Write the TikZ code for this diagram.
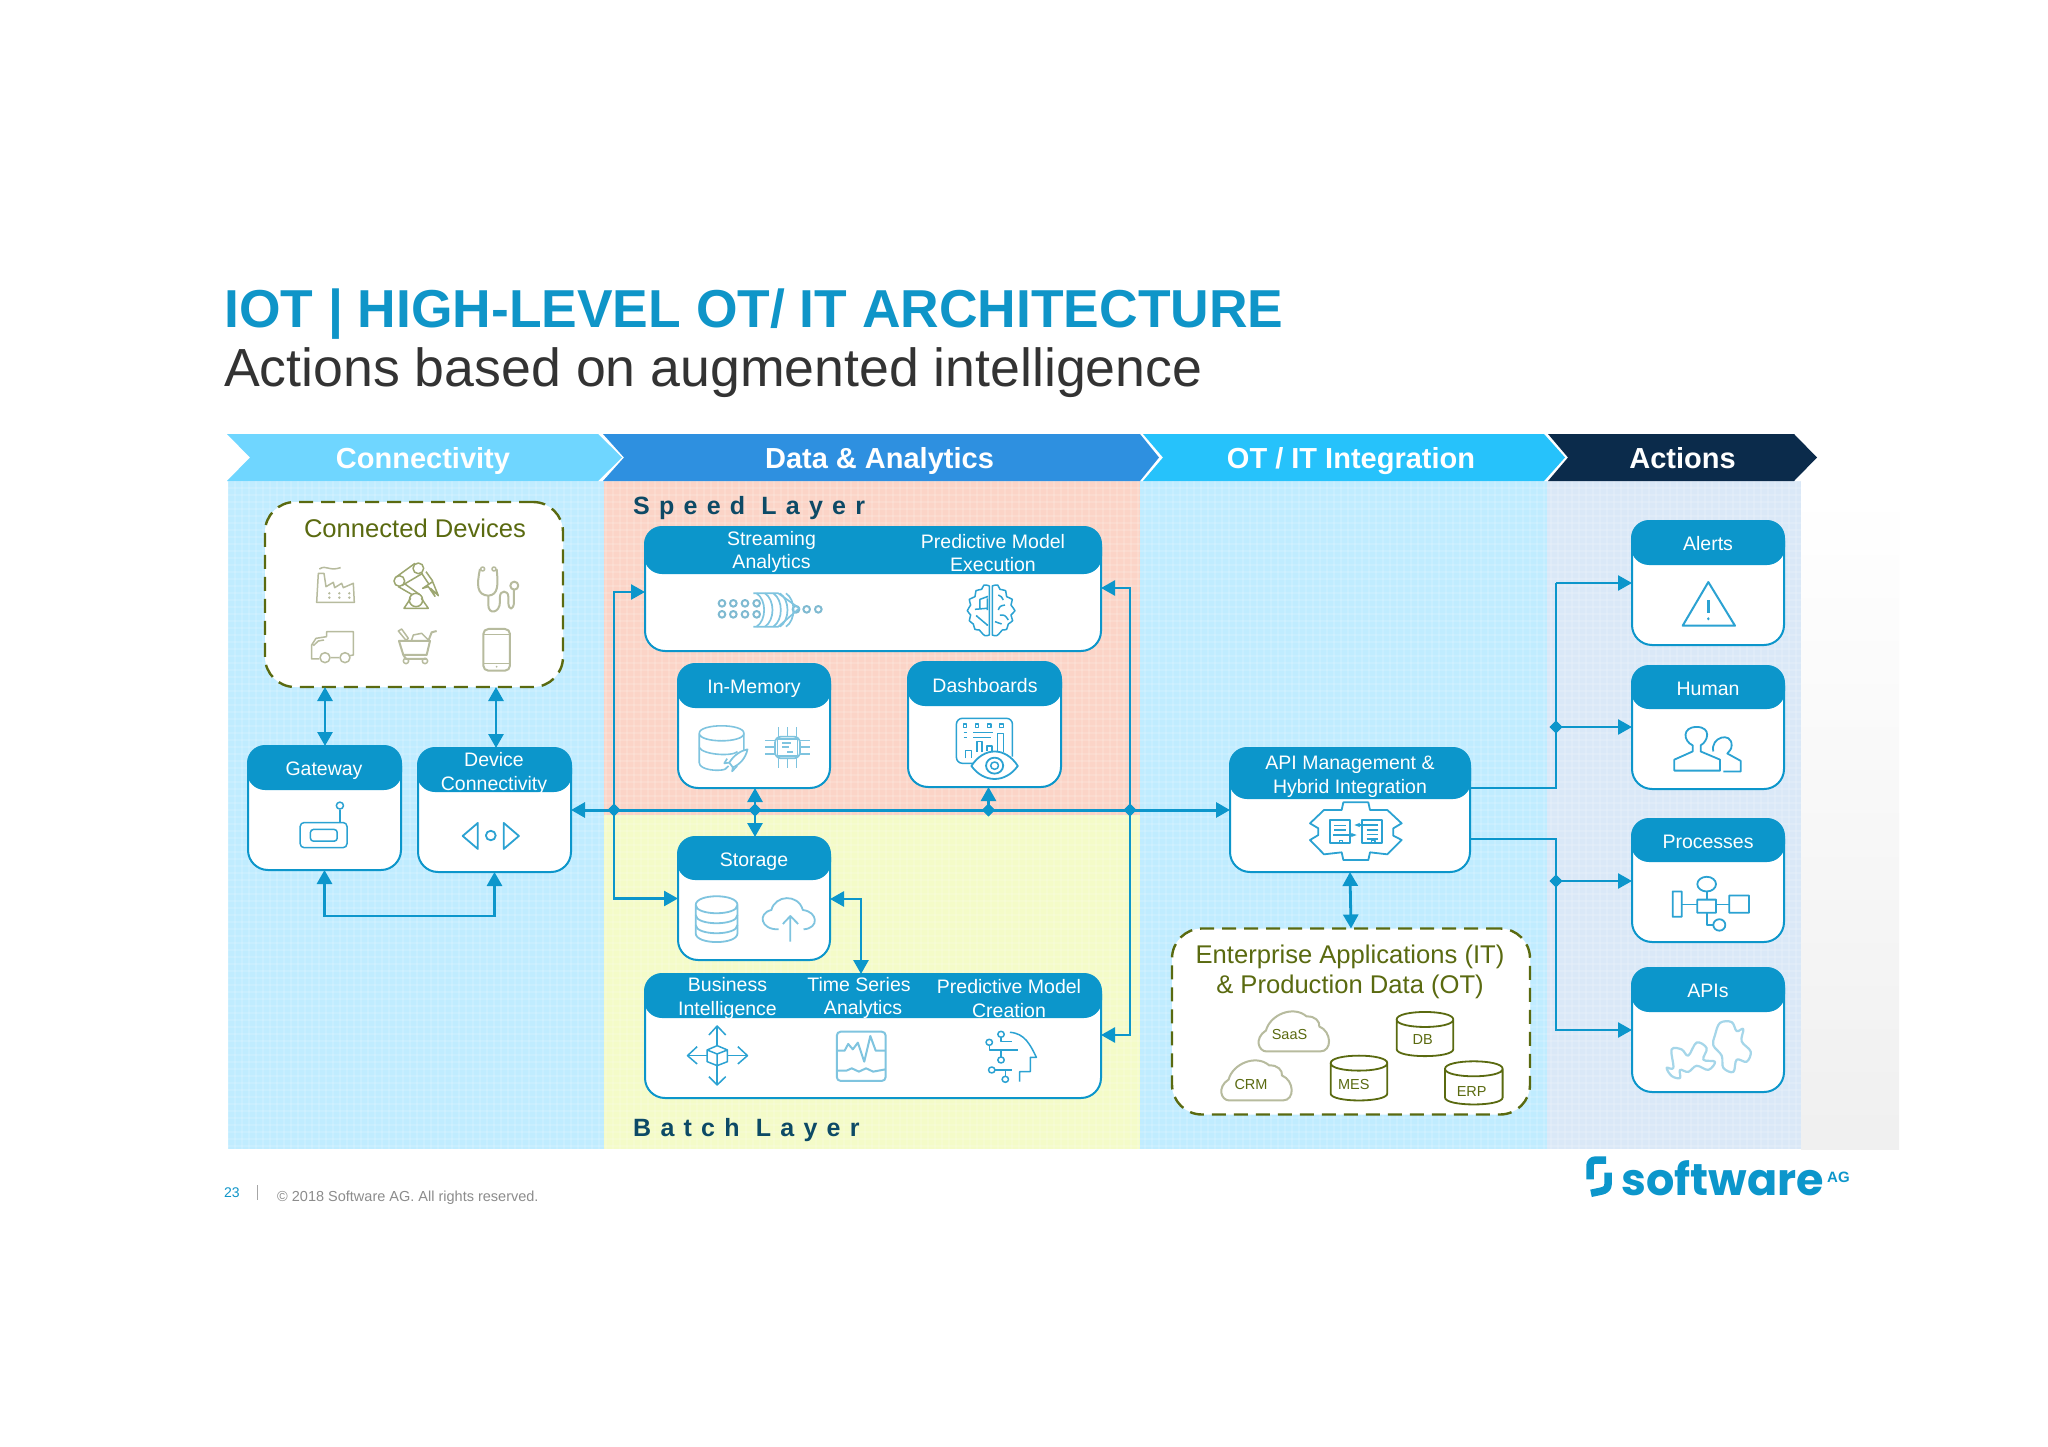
\documentclass[tikz,border=0pt]{standalone}
\usepackage{fontspec}
\setmainfont{Liberation Sans}
\newfontfamily\logofont{Poppins}
\usetikzlibrary{arrows.meta,shapes.geometric,calc}
\definecolor{hd}{HTML}{0C96CB}
\definecolor{ttl}{HTML}{0F95C8}
\definecolor{pblue}{HTML}{C0ECFF}
\definecolor{ppink}{HTML}{FBD4C7}
\definecolor{pyell}{HTML}{F4FBC8}
\definecolor{pact}{HTML}{DAE8F7}
\definecolor{olive}{HTML}{5A6A10}
\definecolor{ico}{HTML}{2BA2D2}
\definecolor{icol}{HTML}{7FC4DF}
\definecolor{icog}{HTML}{B7BB9E}
\definecolor{layerc}{HTML}{0D4A66}
\definecolor{bA}{HTML}{6FD6FF}
\definecolor{bB}{HTML}{2E90E0}
\definecolor{bC}{HTML}{26C2FB}
\definecolor{bD}{HTML}{0B2B4B}
\tikzset{
 card/.style={draw=hd,line width=2pt,fill=white,rounded corners=20pt,inner sep=0pt,outer sep=0pt},
 dashbox/.style={draw=olive,line width=2.4pt,fill=white,rounded corners=30pt,dash pattern=on 14pt off 8pt,inner sep=0pt,outer sep=0pt},
 htxt/.style={text=white,align=center,inner sep=0pt,font=\fontsize{19.5}{23.5}\selectfont},
 bandt/.style={anchor=base,text=white,inner sep=0pt,font=\fontsize{29}{32}\selectfont\bfseries},
 layer/.style={anchor=base west,inner sep=0pt,text=layerc,font=\fontsize{25}{28}\selectfont\bfseries\addfontfeatures{LetterSpace=37}},
 oltxt/.style={text=olive,align=center,inner sep=0pt,font=\fontsize{25.6}{30}\selectfont},
 smtxt/.style={text=olive,inner sep=0pt,font=\fontsize{14.5}{17}\selectfont},
 conn/.style={draw=hd,line width=2.8pt,{Triangle[length=14pt,width=15pt]}-{Triangle[length=14pt,width=15pt]}},
 oneway/.style={draw=hd,line width=2.6pt,-{Triangle[length=14pt,width=15pt]}},
 wire/.style={draw=hd,line width=2.6pt},
 jn/.style={diamond,fill=hd,inner sep=0pt,minimum size=13pt},
 zA/.style={shift={(210,260)},x=0.4464pt,y=-0.4337pt},
 zB/.style={shift={(600,480)},x=0.3571pt,y=-0.3333pt},
 zC/.style={shift={(600,800)},x=0.3571pt,y=-0.3333pt},
 zD/.style={shift={(1140,721.5)},x=0.3333pt,y=-0.3333pt},
 zE/.style={shift={(1540,480)},x=0.3333pt,y=-0.4082pt},
 zG/.style={shift={(300,555)},x=0.3333pt,y=-0.3333pt},
 zH/.style={shift={(700,580)},x=0.3333pt,y=-0.3333pt},
 zJ/.style={shift={(1580,1151)},x=0.3333pt,y=-0.3333pt},
 zK/.style={shift={(1300,795)},x=0.3333pt,y=-0.3333pt},
 ic/.style={draw=ico,line width=1.5pt,line join=round},
 il/.style={draw=icol,line width=1.7pt,line join=round},
 ig/.style={draw=icog,line width=1.5pt,line join=round},
}
\newcommand{\cardbox}[6]{%
 \pgfmathsetmacro\cw{#4-#2}\pgfmathsetmacro\ch{#5-#3}%
 \pgfmathsetmacro\cx{(#2+#4)/2}\pgfmathsetmacro\cy{(#3+#5)/2}%
 \node[card,minimum width=\cw pt,minimum height=\ch pt] (#1) at (\cx,\cy) {};
 \fill[hd,rounded corners=18pt] (#2-1,#3-1) rectangle (#4+1,#6);
}
\newcommand{\cyl}[4]{%
 \draw[draw=olive,line width=1.8pt,fill=white] (#1,#2+22) -- (#1,#4-22) .. controls (#1,#4+6) and (#3,#4+6) .. (#3,#4-22) -- (#3,#2+22) .. controls (#3,#2-8) and (#1,#2-8) .. (#1,#2+22) .. controls (#1,#2+52) and (#3,#2+52) .. (#3,#2+22);
}
\newcommand{\cloudp}[2]{%
 \draw[draw=icog,line width=2pt,fill=white,shift={(#1,#2)}] (30,125) .. controls (5,125) and (-8,85) .. (28,62) .. controls (40,15) and (110,-15) .. (150,20) .. controls (175,18) and (190,35) .. (188,50) .. controls (225,65) and (228,125) .. (190,125) -- cycle;
}
\begin{document}
\begin{tikzpicture}[x=1pt,y=-1pt]
\useasboundingbox (0,0) rectangle (2048,1447);
\fill[white] (0,0) rectangle (2048,1447);
% panels
\shade[top color=white,bottom color=black!6] (1801,490) rectangle (1899,1149);
\fill[pblue] (228,481) rectangle (604,1149);
\fill[ppink] (604,481) rectangle (1140,815);
\fill[pyell] (604,815) rectangle (1140,1149);
\fill[pblue] (1140,481) rectangle (1546.5,1149);
\fill[pact] (1546.5,481) rectangle (1801,1149);
\begin{scope}
 \clip (228,481) rectangle (1801,1149);
 \foreach \a in {0,...,225}{\draw[white,opacity=.14,line width=1.2pt] (228+7*\a,481)--(228+7*\a,1149);}
 \foreach \b in {0,...,96}{\draw[white,opacity=.14,line width=1.2pt] (228,481+7*\b)--(1801,481+7*\b);}
\end{scope}
% bands
\fill[bA] (227,434)--(598,434)--(622,457.5)--(598,481)--(227,481)--(250,457.5)--cycle;
\fill[bB] (603,434)--(1140,434)--(1159,457.5)--(1140,481)--(603,481)--(624,457.5)--cycle;
\fill[bC] (1143,434)--(1544,434)--(1565,457.5)--(1544,481)--(1143,481)--(1163,457.5)--cycle;
\fill[bD] (1548,434)--(1794,434)--(1817,457.5)--(1794,481)--(1548,481)--(1568,457.5)--cycle;
\node[bandt] (tA) at (423,468.5) {Connectivity};
\node[bandt] (tB) at (879.5,468.5) {Data \& Analytics};
\node[bandt] (tC) at (1351,468.5) {OT / IT Integration};
\node[bandt] (tD) at (1682.5,468.5) {Actions};
% title
\node[anchor=base west,inner sep=0,text=ttl,font=\fontsize{53.4}{60}\selectfont\bfseries] (title) at (224,327) {IOT | HIGH-LEVEL OT/ IT ARCHITECTURE};
\node[anchor=base west,inner sep=0,text=black!80,font=\fontsize{53.65}{60}\selectfont] (sub) at (224,386) {Actions based on augmented intelligence};
% layers
\node[layer] (sl) at (633,514) {Speed Layer};
\node[layer] (bl) at (633,1136) {Batch Layer};
% dashed boxes
\node[dashbox,minimum width=298pt,minimum height=185pt] (cd) at (414,594.5) {};
\node[dashbox,minimum width=358pt,minimum height=186pt] (ent) at (1351,1021.5) {};
\node[oltxt] (cdt) at (415,528) {Connected Devices};
\node[oltxt] (entt) at (1350,972) {Enterprise Applications (IT)\\\& Production Data (OT)};
% cards
\cardbox{gw}{248}{746}{401}{870}{790}
\cardbox{dev}{418}{748}{571}{872}{792}
\cardbox{strm}{645}{527}{1101}{651}{574}
\cardbox{mem}{678}{664}{830}{788}{708}
\cardbox{dash}{908}{662}{1061}{787}{706}
\cardbox{stor}{678}{837}{830}{960}{880}
\cardbox{batch}{645}{974}{1101}{1098}{1018}
\cardbox{api}{1230}{748}{1470}{872}{799}
\cardbox{alert}{1632}{521}{1784}{645}{565}
\cardbox{human}{1632}{666}{1784}{789}{709}
\cardbox{proc}{1632}{819}{1784}{942}{862}
\cardbox{apis}{1632}{968}{1784}{1092}{1012}
% header texts
\node[htxt] (t1) at (324,771) {Gateway};
\node[htxt] (t2) at (494,773.5) {Device\\Connectivity};
\node[htxt] (t3) at (771.5,552) {Streaming\\Analytics};
\node[htxt] (t4) at (993,553) {Predictive Model\\Execution};
\node[htxt] (t5) at (754,689) {In-Memory};
\node[htxt] (t6) at (985,685.5) {Dashboards};
\node[htxt] (t7) at (754,862) {Storage};
\node[htxt] (t8) at (727.5,998.5) {Business\\Intelligence};
\node[htxt] (t9) at (859,998) {Time Series\\\hspace*{8pt}Analytics};
\node[htxt] (t10) at (1009,998.5) {Predictive Model\\Creation};
\node[htxt] (t11) at (1350,777) {API Management \&\\Hybrid Integration};
\node[htxt] (t12) at (1708,543.5) {Alerts};
\node[htxt] (t13) at (1708,688.5) {Human};
\node[htxt] (t14) at (1708,841.5) {Processes};
\node[htxt] (t15) at (1708,990.5) {APIs};
% junctions
\node[jn] (j1) at (614,810) {};
\node[jn] (j2) at (755,810) {};
\node[jn] (j3) at (988.5,810) {};
\node[jn] (j4) at (1130,810) {};
\node[jn] (j5) at (1556,727) {};
\node[jn] (j6) at (1556,881) {};
\coordinate (apiU) at (api.east |- 0,788);
\coordinate (apiD) at (api.east |- 0,839);
\coordinate (alertK) at (1556,583);
\coordinate (stT) at (861,898);
% connectors
\draw[oneway,line width=3pt] (j4.center) -- (j4.center -| api.west);
\draw[oneway,line width=3pt] (j4.center) -- (j1.center) -- (j1.center -| dev.east);
\draw[conn] (cd.south -| 325,0) -- (gw.north -| 325,0);
\draw[conn] (cd.south -| 496,0) -- (dev.north -| 496,0);
\draw[conn] (gw.south) -- (gw.south |- 0,916) -- (dev.south |- 0,916) -- (dev.south);
\draw[oneway] (j1.center) |- ([yshift=-3pt]strm.west);
\draw[oneway] (j1.center) |- ([yshift=0pt]stor.west);
\draw[oneway] (j4.center) |- ([yshift=1pt]strm.east);
\draw[oneway] (j4.center) |- ([yshift=1pt]batch.east);
\draw[conn] (mem.south -| j2) -- (stor.north -| j2);
\draw[oneway] (j3.center) -- (j3.center |- dash.south);
\draw[conn] ([yshift=-.5pt]stor.east) -| (batch.north -| stT);
\draw[conn] (api.south) -- (ent.north);
\draw[wire] (apiU) -- (alertK |- apiU) -- (alertK);
\draw[oneway] (alertK) -- (alertK -| alert.west);
\draw[oneway] (j5.center) -- (j5.center -| human.west);
\draw[wire] (apiD) -- (j6.center |- apiD) -- (j6.center);
\draw[oneway] (j6.center) -- (j6.center -| proc.west);
\draw[oneway] (j6.center) |- (apis.west);
\node[jn] (j1b) at (j1) {};\node[jn] (j2b) at (j2) {};\node[jn] (j3b) at (j3) {};
\node[jn] (j4b) at (j4) {};\node[jn] (j5b) at (j5) {};\node[jn] (j6b) at (j6) {};
% device icons
\begin{scope}[zG]
 \draw[ig] (50,142)--(55,55)--(72,55)--(78,95)--(100,82)--(104,98)--(125,85)--(130,98)--(160,85)--(163,142)--cycle;
 \draw[ig] (58,42) .. controls (80,28) and (85,50) .. (122,38);
 \foreach \a in {88,118,148}{\foreach \b in {115,128}{\fill[icog] (\a,\b) circle (4);}}
 \draw[ig,draw=olive!60!white] (298,78) circle (16) (355,40) circle (16) (348,135) circle (20);
 \draw[ig,draw=olive!60!white] (290,65)--(345,25) (305,92)--(368,55) (295,95)--(335,118) (312,85)--(358,118);
 \draw[ig,draw=olive!60!white] (365,55)--(385,85) (378,50)--(398,78) (368,100)--(398,80)--(415,122)--(392,100)--(405,124)--(385,95)--cycle;
 \draw[ig,draw=olive!60!white] (332,130)--(312,160)--(385,160)--(364,130);
 \draw[ig,line width=2pt] (540,42) .. controls (530,90) and (530,120) .. (565,122) .. controls (595,120) and (595,90) .. (590,42);
 \draw[ig] (548,42) circle (6) (582,42) circle (6);
 \draw[ig,line width=2pt] (565,122) -- (565,150) .. controls (565,180) and (600,175) .. (600,140) -- (600,125) .. controls (600,105) and (625,105) .. (625,125) -- (625,140) .. controls (625,170) and (642,165) .. (642,140) -- (642,105);
 \draw[ig,line width=2pt] (643,92) circle (12);
 \draw[ig] (80,245)--(80,230)--(160,230)--(160,300)--(150,302) (118,308)--(92,308) (58,312)--(35,312)--(35,270)--(48,250)--(80,245) (40,272)--(55,258)--(72,255);
 \draw[ig] (75,308) circle (15) (135,308) circle (15);
 \draw[ig,line width=2pt] (297,258)--(390,258)--(380,300)--(310,300)--cycle (310,300)--(318,312)--(380,312) (385,258)--(395,232)--(410,228);
 \draw[ig] (318,318) circle (8) (375,318) circle (8);
 \draw[ig] (295,228)--(318,256)--(325,250)--(305,222)--cycle (335,255)--(340,240)--(365,235)--(385,255);
 \draw[ig,line width=2pt,rounded corners=5pt] (550,222) rectangle (630,347);
 \draw[ig] (550,238)--(630,238) (550,325)--(630,325);
 \fill[icog] (590,335) circle (3);
\end{scope}
% gateway and device icons
\begin{scope}[zA]
 \draw[ic,rounded corners=4pt] (202,1297) rectangle (307,1355);
 \draw[ic,rounded corners=3pt] (225,1313) rectangle (285,1340);
 \draw[ic] (291,1268)--(291,1297);
 \draw[ic] (291,1258) circle (8);
 \draw[ic,line width=1.8pt] (600,1298)--(600,1358)--(566,1328)--cycle (658,1298)--(658,1358)--(692,1328)--cycle;
 \draw[ic,line width=1.8pt] (629,1327) circle (11);
\end{scope}
% streaming + brain
\begin{scope}[zH]
 \foreach \a in {66,100,135,170}{\foreach \b in {70,103}{\draw[il,draw=icol!85!gray,line width=2pt] (\a,\b) circle (10);}}
 \foreach \a in {288,320,355}{\draw[il,draw=icol!85!gray,line width=2pt] (\a,88) circle (10);}
 \draw[il] (160,40)--(235,40)--(298,85)--(235,140)--(160,140);
 \foreach \a in {170,195,220,240,258}{\draw[il] (\a,40) .. controls (\a+30,60) and (\a+30,120) .. (\a,140);}
 \draw[ic] plot[smooth,tension=.7] coordinates {(868,165)(855,167)(845,158)(838,150)(825,148)(820,132)(808,122)(812,105)(802,92)(812,75)(808,58)(825,50)(828,32)(845,28)(852,15)(868,18)} -- cycle;
 \draw[ic] plot[smooth,tension=.7] coordinates {(877,165)(890,167)(900,158)(907,150)(920,148)(925,132)(938,122)(933,105)(945,92)(933,75)(937,58)(920,50)(917,32)(900,28)(893,15)(877,18)} -- cycle;
 \draw[ic] (862,50)--(840,58)--(840,85) (860,85)--(825,88) (862,55)--(862,90) (830,108)--(862,135);
 \fill[ico] (862,50) circle (3) (840,85) circle (3) (830,108) circle (3) (862,135) circle (3);
 \draw[ic] (895,45) .. controls (905,50) .. (910,60) (915,75) .. controls (900,78) .. (895,90) (900,105) .. controls (915,105) .. (925,120) (885,125) .. controls (895,130) .. (905,132);
\end{scope}
% memory db, chip, dashboard
\begin{scope}[zB]
 \draw[il,line width=1.6pt] (278,760) .. controls (278,730) and (403,730) .. (403,760) .. controls (403,790) and (278,790) .. (278,760) -- (278,848) .. controls (278,870) and (330,875) .. (350,868);
 \draw[il,line width=1.6pt] (403,760)--(403,810) (278,803) .. controls (290,825) and (370,830) .. (385,815);
 \draw[il,fill=white] (413,808) .. controls (395,812) and (375,825) .. (362,848) -- (372,862) .. controls (390,855) and (408,835) .. (413,808) -- cycle;
 \draw[il] (362,848)--(348,850)--(356,836) (372,862)--(370,874)--(384,858) (350,868)--(360,858);
 \draw[il,rounded corners=6pt] (490,770) rectangle (560,835);
 \draw[il] (497,778) rectangle (553,828);
 \draw[il] (510,790)--(535,790) (510,802)--(530,802) (525,816)--(540,816);
 \foreach \a in {500,525,550}{\draw[il] (\a,742)--(\a,770) (\a,835)--(\a,865);}
 \foreach \b in {782,802,822}{\draw[il] (463,\b)--(490,\b) (560,\b)--(588,\b);}
 \draw[ic,rounded corners=6pt] (1155,830) -- (1155,715) -- (998,715) -- (998,850) -- (1045,850);
 \foreach \a in {1022,1056,1090,1124}{\draw[ic,line width=1.2pt] (\a-5,732) rectangle (\a+5,742);}
 \draw[ic] (1018,758)--(1028,758) (1018,772)--(1028,772) (1045,758)--(1100,758) (1045,772)--(1095,772);
 \draw[ic] (1023,835)--(1023,812)--(1040,812)--(1040,835) (1055,815)--(1055,785)--(1070,785)--(1070,815) (1083,812)--(1083,798)--(1098,798)--(1098,815) (1113,815)--(1113,760)--(1130,760)--(1130,815);
 \draw[ic,fill=white,line width=1.8pt] (1040,858) .. controls (1075,800) and (1135,800) .. (1170,858) .. controls (1135,910) and (1075,910) .. (1040,858) -- cycle;
 \draw[ic,line width=1.8pt] (1105,857) circle (24);
 \draw[ic] (1105,857) circle (11);
\end{scope}
% storage, BI, time series, head
\begin{scope}[zC]
 \draw[il,line width=1.8pt] (268,315) .. controls (268,280) and (385,280) .. (385,315) .. controls (385,348) and (268,348) .. (268,315) -- (268,400) .. controls (268,435) and (385,435) .. (385,400) -- (385,315);
 \draw[il,line width=1.8pt] (268,345) .. controls (268,378) and (385,378) .. (385,345) (268,375) .. controls (268,408) and (385,408) .. (385,375);
 \draw[il,line width=1.8pt] (500,388) .. controls (450,390) and (440,340) .. (480,330) .. controls (490,285) and (555,280) .. (568,330) .. controls (610,335) and (615,385) .. (570,388);
 \draw[il,line width=1.8pt] (533,425)--(533,348) (512,372)--(533,348)--(555,372);
 \draw[ic] (328,678)--(328,737) (328,797)--(328,855) (245,767)--(300,767) (357,767)--(413,767);
 \draw[ic] (305,705)--(328,678)--(352,705) (305,830)--(328,855)--(352,830) (272,740)--(245,767)--(272,792) (386,740)--(413,767)--(386,792);
 \draw[ic] (300,750)--(328,737)--(357,750)--(357,785)--(328,797)--(300,785)--cycle (300,750)--(328,762)--(357,750) (328,762)--(328,797);
 \draw[il,line width=2pt,rounded corners=4pt] (663,695) rectangle (800,843);
 \draw[il,line width=2pt] (663,752)--(685,752)--(695,732)--(708,748)--(722,728)--(740,785)--(757,708)--(772,752)--(800,752);
 \draw[il,line width=2pt] (663,812)--(690,812)--(705,805)--(725,815)--(745,805)--(765,815)--(800,808);
 \draw[ic] (1148,697) .. controls (1190,700) and (1205,735) .. (1222,772)--(1205,772)--(1205,815)--(1175,815)--(1175,845);
 \draw[ic] (1123,712)--(1123,725)--(1155,725) (1090,737)--(1090,750)--(1170,750) (1123,750)--(1123,772) (1105,810)--(1155,810) (1135,810)--(1135,830);
 \draw[ic] (1123,703) circle (9) (1090,727) circle (9) (1123,780) circle (9) (1097,810) circle (9) (1135,838) circle (9);
\end{scope}
% API gear
\begin{scope}[zK]
 \draw[ic,line width=1.8pt] (130,22)--(205,22)--(210,45)--(262,45)--(305,85)--(280,100)--(280,122)--(305,135)--(262,178)--(210,172)--(205,195)--(130,195)--(125,172)--(72,178)--(30,135)--(55,120)--(55,100)--(30,85)--(72,45)--(125,45)--cycle;
 \draw[ic,line width=1.8pt] (90,75) rectangle (150,145) (187,75) rectangle (245,145);
 \draw[ic] (102,92)--(138,92) (102,105)--(138,105) (200,105)--(235,105) (200,118)--(235,118) (200,132)--(235,132);
 \draw[ic,-{Stealth[length=6pt]}] (100,120)--(170,120);
 \draw[ic,-{Stealth[length=6pt]}] (235,90)--(163,90);
 \draw[ic] (118,145)--(118,137)--(128,137)--(128,145) (215,145)--(215,137)--(225,137)--(225,145);
\end{scope}
% right icons
\begin{scope}[zE]
 \draw[ic,line width=2pt] (505,250)--(585,357)--(428,357)--cycle;
 \draw[ic,line width=2.5pt] (505,295)--(505,325);
 \fill[ico] (505,340) circle (4);
 \draw[ic,line width=1.8pt] (403,712)--(403,685)--(458,665)--(458,650) .. controls (430,640) and (425,605) .. (470,605) .. controls (515,605) and (505,640) .. (482,650) -- (482,665) -- (540,685) -- (540,712) -- cycle;
 \draw[ic,line width=1.8pt] (520,665) .. controls (510,630) and (575,615) .. (575,650) .. controls (575,662) and (565,665) .. (562,670) -- (602,688) -- (602,714) -- (550,714);
 \draw[ic,line width=1.8pt] (398,1008) rectangle (425,1070) (472,1028) rectangle (528,1060) (568,1018) rectangle (627,1060) (500,990) ellipse (28 and 18) (538,1090) ellipse (18 and 14);
 \draw[ic,line width=1.8pt] (425,1040)--(472,1040) (528,1040)--(568,1040) (500,1008)--(500,1028) (500,1060)--(500,1090)--(520,1090);
 \draw[il,draw=icol!70!white,line width=2.2pt] plot[smooth cycle,tension=.6] coordinates {(380,1440)(400,1440)(395,1395)(425,1395)(445,1410)(470,1378)(500,1392)(490,1420)(525,1425)(505,1445)(470,1435)(445,1450)(420,1445)(420,1465)(395,1460)};
 \draw[il,draw=icol!70!white,line width=2.2pt] plot[smooth cycle,tension=.6] coordinates {(525,1360)(540,1330)(575,1328)(590,1350)(610,1345)(605,1375)(632,1400)(620,1425)(590,1420)(580,1450)(550,1440)(545,1410)(520,1385)};
\end{scope}
% enterprise icons
\begin{scope}[zD]
 \cloudp{350}{865}
 \cloudp{238}{1012}
 \cyl{770}{872}{940}{1005}
 \cyl{572}{1003}{742}{1138}
 \cyl{915}{1020}{1088}{1150}
\end{scope}
\node[smtxt] (s1) at (1289.5,1035) {SaaS};
\node[smtxt] (s2) at (1251,1084) {CRM};
\node[smtxt] (s3) at (1422.7,1040) {DB};
\node[smtxt] (s4) at (1353.7,1084) {MES};
\node[smtxt] (s5) at (1471.7,1092) {ERP};
% footer
\node[anchor=base west,inner sep=0,text=ttl,font=\fontsize{14}{16}\selectfont] (pg) at (224,1197) {23};
\draw[black!35,line width=.8pt] (257.5,1185)--(257.5,1200);
\node[anchor=base west,inner sep=0,text=black!45,font=\fontsize{14.5}{16}\selectfont] (copy) at (277,1201) {© 2018 Software AG. All rights reserved.};
% logo
\begin{scope}[zJ]
 \draw[hd,line width=7.5pt,line join=round] (78,27)--(48,27) .. controls (35,27) and (30,35) .. (30,45) -- (30,85);
 \draw[hd,line width=7.5pt,line join=round] (84,65)--(84,100) .. controls (84,112) and (75,118) .. (65,120) -- (33,127);
\end{scope}
\node[anchor=base west,inner sep=0,text=hd,font=\logofont\bfseries\fontsize{44.5}{50}\selectfont] (logo) at (1621,1195) {software};
\node[anchor=base west,inner sep=0,text=hd,font=\bfseries\fontsize{15}{17}\selectfont] (ag) at (1827,1182) {AG};
\end{tikzpicture}
\end{document}
